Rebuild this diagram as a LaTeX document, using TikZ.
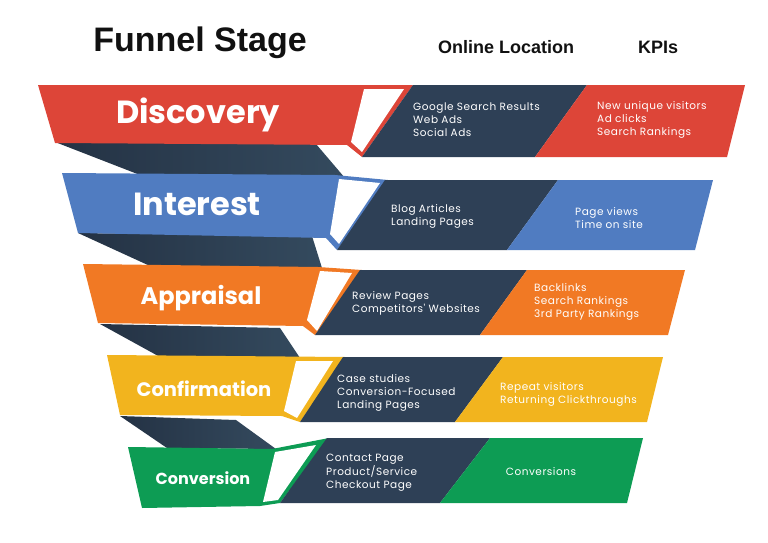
\documentclass[tikz,border=0pt]{standalone}
\usepackage{fontspec}
\setmainfont{Poppins}
\newfontfamily\headfont{Liberation Sans}
\newfontfamily\infofont[LetterSpace=5]{Poppins}
\usepackage{tikz}
\usetikzlibrary{positioning}
\usepackage{xcolor}
\definecolor{StageRed}{RGB}{221, 69, 56}
\definecolor{StageBlue}{RGB}{80, 124, 193}
\definecolor{StageOrange}{RGB}{241, 121, 36}
\definecolor{StageYellow}{RGB}{242, 180, 30}
\definecolor{StageGreen}{RGB}{13, 156, 84}
\definecolor{Navy}{RGB}{46, 64, 86}
\definecolor{NavyDeep}{RGB}{36, 50, 68}
\definecolor{NavyLite}{RGB}{52, 74, 94}
\definecolor{InkBlack}{RGB}{17, 17, 17}
\tikzset{%
  head_text/.style={%
    text=InkBlack,%
    anchor=base,%
    font={\headfont\bfseries\fontsize{18}{20}\selectfont},%
  },
  stage_label/.style={%
    text=white,%
    anchor=base,%
    font={\bfseries\fontsize{#1}{#1}\selectfont},%
  },
  info_text/.style={%
    text=white,%
    anchor=west,%
    align=left,%
    inner sep=0pt,%
    font={\infofont\fontsize{10.5}{12.7}\selectfont},%
  },
  fold_shade/.style={%
    left color=NavyDeep,%
    right color=NavyLite,%
  },
  flap/.style={%
    fill=white,%
  },
  online_panel/.style={%
    fill=Navy,%
  },
}

\begin{document}
\begin{tikzpicture}[x=1pt, y=-1pt]
    \useasboundingbox (0,0) rectangle (768,543);

    % folds behind the bands
    \shade [fold_shade] (55,142) -- (316,144) -- (345,178) -- (140,175) -- cycle;
    \shade [fold_shade] (78,233) -- (312,236) -- (322,268) -- (150,266) -- cycle;
    \shade [fold_shade] (100,324) -- (280,328) -- (300,358) -- (160,357) -- cycle;
    \shade [fold_shade] (120,416) -- (236,420) -- (276,449) -- (167,448) -- cycle;

    % Discovery
    \fill [StageRed] (38,85) -- (413,85) -- (362,157) -- (347,145) -- (55,143) -- cycle;
    \fill [flap] (364,89) -- (404,89) -- (362,152) -- (351,142) -- cycle;
    \fill [online_panel] (413,85) -- (587,85) -- (535,157) -- (362,157) -- cycle;
    \fill [StageRed] (587,85) -- (745,85) -- (727,157) -- (535,157) -- cycle;

    % Interest
    \fill [StageBlue] (62,173) -- (335,175) -- (388,180) -- (337,250) -- (326,238) -- (78,233) -- cycle;
    \fill [flap] (339,179) -- (380,183) -- (339,244) -- (330,234) -- cycle;
    \fill [online_panel] (385,180) -- (558,180) -- (507,250) -- (337,250) -- cycle;
    \fill [StageBlue] (558,180) -- (713,180) -- (695,250) -- (507,250) -- cycle;

    % Appraisal
    \fill [StageOrange] (83,264) -- (318,267) -- (362,270) -- (315,335) -- (303,326) -- (98,323) -- cycle;
    \fill [flap] (320,271) -- (352,273) -- (317,331) -- (307,320) -- cycle;
    \fill [online_panel] (360,270) -- (527,270) -- (480,335) -- (315,335) -- cycle;
    \fill [StageOrange] (527,270) -- (685,270) -- (668,335) -- (480,335) -- cycle;

    % Confirmation
    \fill [StageYellow] (107,355) -- (345,357) -- (300,422) -- (282,416) -- (120,415) -- cycle;
    \fill [flap] (296,361) -- (333,361) -- (297,418) -- (284,411) -- cycle;
    \fill [online_panel] (343,357) -- (503,357) -- (455,422) -- (300,422) -- cycle;
    \fill [StageYellow] (503,357) -- (663,357) -- (647,422) -- (455,422) -- cycle;

    % Conversion
    \fill [StageGreen] (128,447) -- (272,449) -- (329,438) -- (280,503) -- (260,506) -- (142,508) -- cycle;
    \fill [flap] (275,452) -- (316,445) -- (278,500) -- (263,502) -- cycle;
    \fill [online_panel] (327,438) -- (490,438) -- (440,503) -- (280,503) -- cycle;
    \fill [StageGreen] (490,438) -- (643,438) -- (627,503) -- (440,503) -- cycle;

    % headings
    \node [head_text, font={\headfont\bfseries\fontsize{34}{36}\selectfont}] (StageHead) at (200,52) {Funnel Stage};
    \node [head_text] (OnlineHead) at (506,54) {Online Location};
    \node [head_text, right = 57pt of OnlineHead] (KPIHead) {KPIs};

    % stage labels
    \node [stage_label=32] (DiscoveryLabel) at (198,123) {Discovery};
    \node [stage_label=32] (InterestLabel) at (197,215) {Interest};
    \node [stage_label=24] (AppraisalLabel) at (201,304) {Appraisal};
    \node [stage_label=19.5] (ConfirmationLabel) at (204,396) {Confirmation};
    \node [stage_label=16] (ConversionLabel) at (203,484) {Conversion};

    % online locations
    \node [info_text] (DiscoveryOnline) at (413,119.5)
      {Google Search Results\\Web Ads\\Social Ads};
    \node [info_text] (InterestOnline) at (391,216.5)
      {Blog Articles\\Landing Pages};
    \node [info_text] (AppraisalOnline) at (352,303.5)
      {Review Pages\\Competitors' Websites};
    \node [info_text] (ConfirmationOnline) at (337,393)
      {Case studies\\Conversion-Focused\\Landing Pages};
    \node [info_text] (ConversionOnline) at (326,472.5)
      {Contact Page\\Product/Service\\Checkout Page};

    % KPIs
    \node [info_text] (DiscoveryKPI) at (597,120)
      {New unique visitors\\Ad clicks\\Search Rankings};
    \node [info_text] (InterestKPI) at (575,218)
      {Page views\\Time on site};
    \node [info_text] (AppraisalKPI) at (534,302)
      {Backlinks\\Search Rankings\\3rd Party Rankings};
    \node [info_text] (ConfirmationKPI) at (500,394.5)
      {Repeat visitors\\Returning Clickthroughs};
    \node [info_text, anchor=center] (ConversionKPI) at (541,472)
      {Conversions};
  \end{tikzpicture}
\end{document}
